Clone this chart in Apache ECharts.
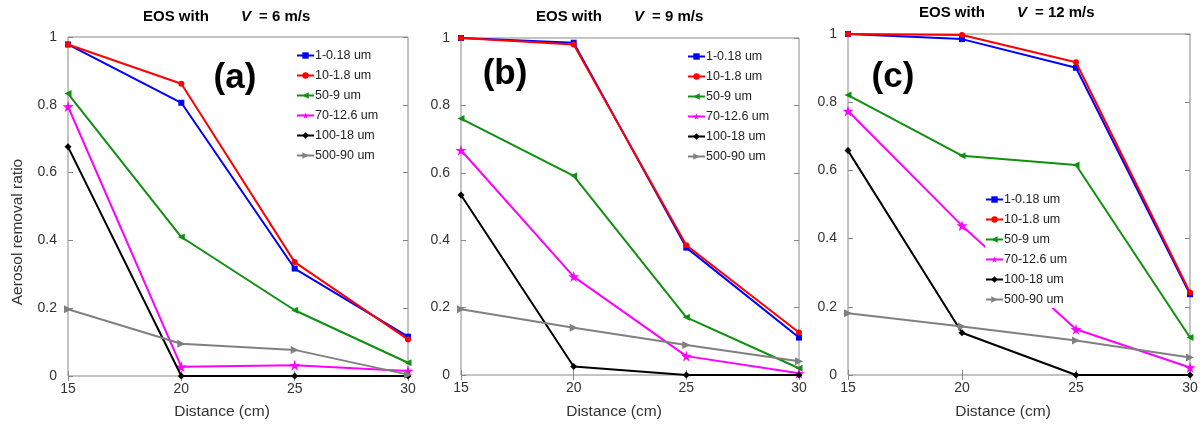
<!DOCTYPE html>
<html>
<head>
<meta charset="utf-8">
<script src="https://cdn.jsdelivr.net/npm/echarts@6/dist/echarts.min.js"></script>
<style>
html,body{margin:0;padding:0;background:#fff;}
#chart{width:1201px;height:425px;}
</style>
</head>
<body>
<div id="chart"></div>
<script>
// ---- data ----
const distances = [15, 20, 25, 30];
const seriesNames = ['1-0.18 um', '10-1.8 um', '50-9 um', '70-12.6 um', '100-18 um', '500-90 um'];
const yTicks = [0, 0.2, 0.4, 0.6, 0.8, 1];
const panelTitles = ['6 m/s', '9 m/s', '12 m/s'];
const panelLabels = ['(a)', '(b)', '(c)'];

// panel (a) V = 6 m/s
const a_1_018  = [0.978, 0.806, 0.317, 0.116];
const a_10_18  = [0.978, 0.862, 0.336, 0.108];
const a_50_9   = [0.833, 0.410, 0.194, 0.039];
const a_70_126 = [0.795, 0.027, 0.032, 0.015];
const a_100_18 = [0.676, 0.000, 0.000, 0.000];
const a_500_90 = [0.197, 0.095, 0.077, 0.004];

// panel (b) V = 9 m/s
const b_1_018  = [1.000, 0.986, 0.378, 0.111];
const b_10_18  = [1.000, 0.981, 0.385, 0.126];
const b_50_9   = [0.761, 0.591, 0.171, 0.020];
const b_70_126 = [0.667, 0.292, 0.056, 0.005];
const b_100_18 = [0.534, 0.025, 0.000, 0.000];
const b_500_90 = [0.195, 0.140, 0.089, 0.041];

// panel (c) V = 12 m/s
const c_1_018  = [1.000, 0.985, 0.901, 0.237];
const c_10_18  = [1.000, 0.997, 0.917, 0.242];
const c_50_9   = [0.821, 0.643, 0.616, 0.110];
const c_70_126 = [0.774, 0.438, 0.134, 0.022];
const c_100_18 = [0.658, 0.124, 0.000, 0.000];
const c_500_90 = [0.181, 0.142, 0.101, 0.051];

const panels = [
  [a_1_018, a_10_18, a_50_9, a_70_126, a_100_18, a_500_90],
  [b_1_018, b_10_18, b_50_9, b_70_126, b_100_18, b_500_90],
  [c_1_018, c_10_18, c_50_9, c_70_126, c_100_18, c_500_90]
];

// ---- styles ----
const FONT = '"Liberation Sans", Arial, Helvetica, sans-serif';
const colors = ['#0000ff', '#ff0000', '#109010', '#ff00ff', '#000000', '#808080'];
const STAR = 'path://M50,0 L61,35 L98,35 L68,57 L79,91 L50,70 L21,91 L32,57 L2,35 L39,35 Z';
const symbols = ['rect', 'circle', 'triangle', STAR, 'diamond', 'triangle'];
const symbolRot = [0, 0, 90, 0, 0, -90];
const symbolSizes = [6, 6, 7, 11, 7, 8];

const grids = [
  {left: 68, top: 37, width: 340, height: 339},
  {left: 461, top: 38, width: 338, height: 337},
  {left: 848, top: 34, width: 342, height: 341}
];

const AXIS_COLOR = '#888';
function fmtY(v) { return String(parseFloat(v.toFixed(1))); }

const xAxes = [], yAxes = [], series = [];
grids.forEach((g, gi) => {
  ['bottom', 'top'].forEach((pos, k) => {
    xAxes.push({
      type: 'value', gridIndex: gi, position: pos, min: 15, max: 30, interval: 5,
      axisLine: {show: false}, splitLine: {show: false},
      axisTick: {show: true, inside: true, length: 5, lineStyle: {color: AXIS_COLOR}},
      axisLabel: {show: k === 0, margin: 6, fontSize: 14, color: '#333', fontFamily: FONT,
        showMinLabel: true, showMaxLabel: true}
    });
  });
  ['left', 'right'].forEach((pos, k) => {
    yAxes.push({
      type: 'value', gridIndex: gi, position: pos, min: 0, max: 1, interval: 0.2,
      axisLine: {show: false}, splitLine: {show: false},
      axisTick: {show: true, inside: true, length: 5, lineStyle: {color: AXIS_COLOR}},
      axisLabel: {show: k === 0, margin: 11, fontSize: 14, color: '#333', fontFamily: FONT,
        formatter: fmtY, verticalAlign: 'middle', padding: [0, 0, 8, 0]}
    });
  });
  panels[gi].forEach((vals, si) => {
    series.push({
      type: 'line', name: seriesNames[si],
      xAxisIndex: gi * 2, yAxisIndex: gi * 2,
      data: distances.map((d, i) => [d, vals[i]]),
      symbol: symbols[si], symbolSize: symbolSizes[si], symbolRotate: symbolRot[si],
      showAllSymbol: true, clip: false,
      lineStyle: {color: colors[si], width: 2},
      itemStyle: {color: colors[si]},
      animation: false, z: 2 + si * 0.01
    });
  });
});

const legendPos = [
  {left: 296, top: 47, bg: 'transparent'},
  {left: 687, top: 48, bg: 'transparent'},
  {left: 985, top: 191, bg: '#ffffff'}
];
const legends = legendPos.map(p => ({
  left: p.left, top: p.top, orient: 'vertical',
  data: seriesNames, itemWidth: 17, itemHeight: 8, itemGap: 7,
  backgroundColor: p.bg, padding: [2, 4, 2, 0],
  textStyle: {fontSize: 12.5, color: '#222', fontFamily: FONT, padding: [0, 0, 0, -4], lineHeight: 12},
  selectedMode: false
}));

// titles and labels as graphics
const graphics = [];
const titleStarts = [143, 536, 919];
const titleY = [17, 17, 13];
titleStarts.forEach((x, i) => {
  graphics.push({type: 'text', x: x, y: titleY[i], style: {text: 'EOS with', font: 'bold 15px ' + FONT, fill: '#000', verticalAlign: 'middle'}});
  graphics.push({type: 'text', x: x + 98, y: titleY[i], style: {text: 'V', font: 'italic bold 15px ' + FONT, fill: '#000', verticalAlign: 'middle'}});
  graphics.push({type: 'text', x: x + 116, y: titleY[i], style: {text: '= ' + panelTitles[i], font: 'bold 15px ' + FONT, fill: '#000', verticalAlign: 'middle'}});
});
const labelPos = [[235, 78], [505, 74], [893, 77]];
labelPos.forEach((p, i) => {
  graphics.push({type: 'text', x: p[0], y: p[1], style: {text: panelLabels[i], font: 'bold 35px ' + FONT, fill: '#000', align: 'center', verticalAlign: 'middle'}});
});
const xNameX = [222, 614, 1003];
xNameX.forEach(x => {
  graphics.push({type: 'text', x: x, y: 412, style: {text: 'Distance (cm)', font: '15.5px ' + FONT, fill: '#333', align: 'center', verticalAlign: 'middle'}});
});
graphics.push({type: 'text', x: 18, y: 232, rotation: Math.PI / 2,
  style: {text: 'Aerosol removal ratio', font: '15.5px ' + FONT, fill: '#333', align: 'center', verticalAlign: 'middle'}});

const chart = echarts.init(document.getElementById('chart'), null, {renderer: 'canvas'});
chart.setOption({
  backgroundColor: '#fff',
  animation: false,
  grid: grids.map(g => Object.assign({show: true, borderColor: AXIS_COLOR, borderWidth: 1, backgroundColor: 'transparent'}, g)),
  xAxis: xAxes,
  yAxis: yAxes,
  legend: legends,
  series: series,
  graphic: graphics
});
</script>
</body>
</html>
